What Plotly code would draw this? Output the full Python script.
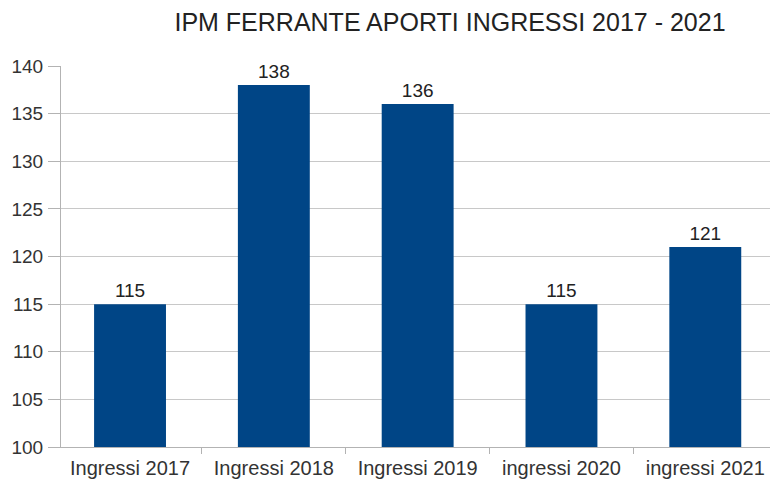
import plotly.graph_objects as go

categories = ["Ingressi 2017", "Ingressi 2018", "Ingressi 2019", "ingressi 2020", "ingressi 2021"]
values = [115, 138, 136, 115, 121]
y_ticks = [100, 105, 110, 115, 120, 125, 130, 135, 140]

fig = go.Figure()
fig.add_trace(go.Bar(
    x=categories, y=values,
    marker=dict(color="#004586", line=dict(width=0)),
    width=0.5,
    text=[str(v) for v in values],
    textposition="outside",
    textfont=dict(family="Liberation Sans, Arial", size=19, color="#222222"),
    cliponaxis=False,
))

fig.update_layout(
    width=770, height=483,
    margin=dict(l=61, r=0, t=66, b=36, autoexpand=False),
    paper_bgcolor="white", plot_bgcolor="white",
    showlegend=False,
    title=dict(text="IPM FERRANTE APORTI INGRESSI 2017 - 2021",
               x=450/770, xanchor="center", y=1-22/483, yanchor="middle",
               font=dict(family="Liberation Sans, Arial", size=25, color="#222222")),
    font=dict(family="Liberation Sans, Arial", size=19, color="#333333"),
)
fig.update_xaxes(
    range=[-0.48, 4.45], automargin=False,
    showline=True, linecolor="#b3b3b3", linewidth=1,
    ticks="outside", tickson="boundaries", ticklen=6, tickcolor="#b3b3b3",
    ticklabelstandoff=3,
    showgrid=False,
    tickfont=dict(size=20, color="#333333"),
)
fig.update_yaxes(
    range=[100, 140], tickvals=y_ticks, automargin=False,
    showline=True, linecolor="#b3b3b3", linewidth=1,
    ticks="outside", ticklen=12, tickcolor="#b3b3b3",
    ticklabelstandoff=1,
    showgrid=True, gridcolor="#c8c8c8", gridwidth=1,
    zeroline=False,
    tickfont=dict(size=19, color="#333333"),
)

fig.write_html("out.html", config={"displayModeBar": False},
               post_script="document.body.style.margin='0';document.body.style.padding='0';")
